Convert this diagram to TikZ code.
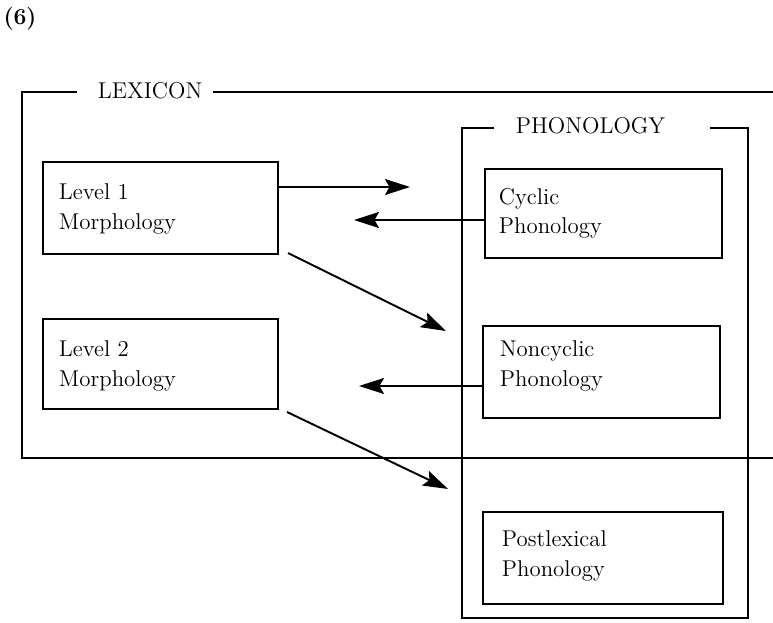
\documentclass[tikz,border=0pt]{standalone}
\usepackage{fontspec}
\usetikzlibrary{arrows.meta}
\tikzset{
  box/.style={draw, minimum width=47.4mm, minimum height=18.4mm, inner sep=0pt},
  txt/.style={anchor=north west, align=left, inner sep=0pt, font=\fontsize{13}{17}\selectfont},
  arr/.style={-{Stealth[length=5mm, width=3.2mm, inset=0.9mm]}},
}
\begin{document}
\begin{tikzpicture}[x=0.2mm, y=-0.2mm, line width=1.1pt]
  \useasboundingbox (0,0) rectangle (773,623);
  \node[inner sep=0pt, font=\bfseries\fontsize{13}{17}\selectfont] (num) at (20,19) {(6)};
  % lexicon frame
  \node[txt, anchor=west] (lex) at (97,91) {LEXICON};
  \draw (77,92) -- (22,92) -- (22,458) -- (773,458);
  \draw (213,92) -- (773,92);
  % phonology frame
  \node[txt, anchor=west] (phon) at (515,125.5) {PHONOLOGY};
  \draw (494,128) -- (462,128) -- (462,618) -- (748,618) -- (748,128) -- (710,128);
  % boxes
  \node[box, minimum width=47mm] (lvl1) at (160.5,208) {};
  \node[box, minimum width=47mm, minimum height=18mm] (lvl2) at (160.5,364) {};
  \node[box, minimum height=17.8mm] (cyc) at (603.5,213.5) {};
  \node[box] (noncyc) at (601.5,372) {};
  \node[box, minimum width=48mm] (postlex) at (603,558) {};
  \node[txt] (lvl1t) at (58,183) {Level 1\\Morphology};
  \node[txt] (lvl2t) at (58,340) {Level 2\\Morphology};
  \node[txt] (cyct) at (498,187) {Cyclic\\Phonology};
  \node[txt] (noncyct) at (499,340) {Noncyclic\\Phonology};
  \node[txt] (postlext) at (501,530) {Postlexical\\Phonology};
  % arrow ends
  \coordinate (t1) at (410,187);
  \coordinate (t2) at (354,220);
  \coordinate (s3) at (288,253);
  \coordinate (t3) at (446,331);
  \coordinate (t4) at (359,386);
  \coordinate (s5) at (287,412);
  \coordinate (t5) at (448,489);
  \draw[arr] (lvl1.east |- t1) -- (t1);
  \draw[arr] (cyc.west |- t2) -- (t2);
  \draw[arr] (s3) -- (t3);
  \draw[arr] (noncyc.west |- t4) -- (t4);
  \draw[arr] (s5) -- (t5);
\end{tikzpicture}
\end{document}
